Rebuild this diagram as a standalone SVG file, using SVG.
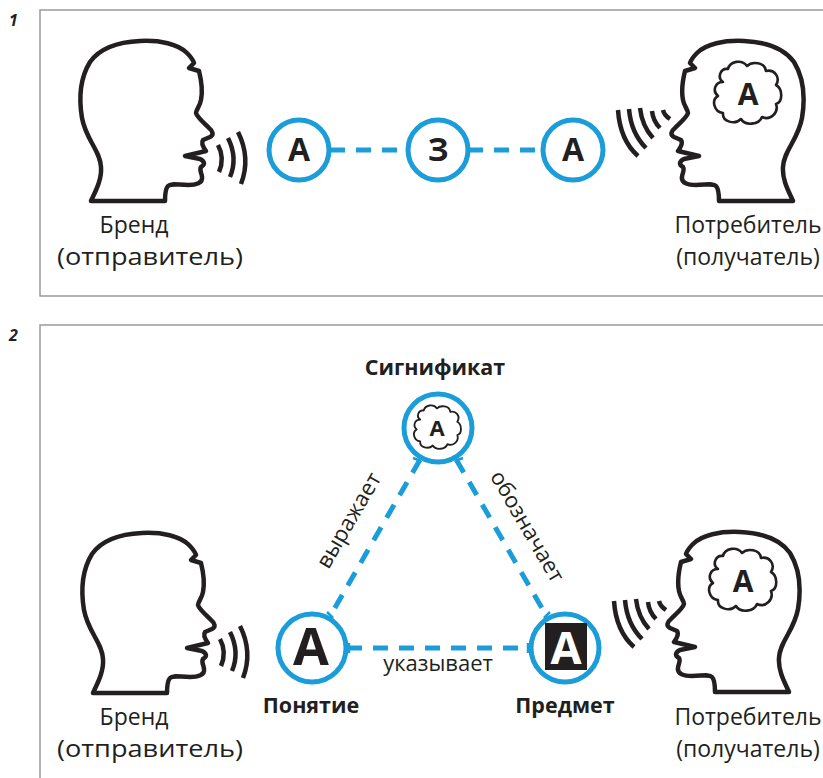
<svg xmlns="http://www.w3.org/2000/svg" xmlns:xlink="http://www.w3.org/1999/xlink" width="823" height="778" viewBox="0 0 823 778">
  <style>
    .frame { fill: none; stroke: #9a9a9a; stroke-width: 1.5; }
    .num { font-family: "Open Sans", "Noto Sans", sans-serif; font-style: italic; font-weight: 700; font-size: 16px; fill: #231f20; }
    .lbl { font-family: "Open Sans", "Noto Sans", sans-serif; font-size: 23px; fill: #231f20; text-anchor: middle; }
    .bold { font-family: "Open Sans", "Noto Sans", sans-serif; font-weight: 700; font-size: 21.5px; fill: #231f20; text-anchor: middle; }
    .edge { font-family: "Open Sans", "Noto Sans", sans-serif; font-size: 22px; fill: #231f20; text-anchor: middle; }
    .glyph { font-family: "Open Sans", "Noto Sans", sans-serif; font-weight: 700; fill: #231f20; text-anchor: middle; }
    .ring { fill: #fff; stroke: #1b9dd9; stroke-width: 5; }
    .dash { stroke: #1b9dd9; stroke-width: 5; stroke-dasharray: 15 11; fill: none; }
    .tick { stroke: #1b9dd9; stroke-width: 2.5; }
    .outline { fill: none; stroke: #231f20; stroke-width: 4.5; stroke-linejoin: round; }
    .wave { fill: none; stroke: #231f20; stroke-width: 4.5; }
    .cloud { fill: #fff; stroke: #231f20; stroke-width: 2.6; stroke-linejoin: round; }
  </style>
  <defs>
    <!-- profile of a head facing right -->
    <path id="head" class="outline" d="M 91 201 C 95 192 102 180 101 167 C 100 150 86 140 82 118 C 79 100 79 80 90 62 C 100 48 118 42 140 41 C 160 40 178 44 187 53 C 191 57 193 60 194 63 L 189 68 L 199 71 C 201 79 203 90 201 100 C 200 106 196 110 196 113 C 197 117 204 123 209 128 C 213 131 214 135 210 137 L 203 140 C 201 143 203 147 206 151 L 185 156 L 200 159 C 204 161 206 164 201 167 C 199 170 202 174 202 177 C 203 183 196 185 188 185 C 178 185 171 183 168 186 C 165 189 165 195 165 201 Z"/>
    <!-- thought cloud, centred on 0,0 -->
    <path id="cloud" class="cloud" d="M -24 -12 C -30 -16 -27 -26 -19 -25 C -17 -33 -5 -35 0 -28 C 5 -33 18 -32 19 -23 C 27 -25 34 -17 29 -9 C 36 -5 36 8 29 10 C 32 18 24 27 15 23 C 12 31 -2 32 -6 25 C -12 31 -25 28 -24 19 C -33 18 -36 6 -29 2 C -35 -3 -32 -12 -24 -12 Z"/>
    <!-- speech waves leaving the mouth -->
    <g id="waves-out">
      <path class="wave" d="M 218 145 Q 225 158 219 172"/>
      <path class="wave" d="M 228 138 Q 238 158 230 177"/>
      <path class="wave" d="M 238 132 Q 251 158 241 184"/>
    </g>
    <!-- waves arriving at the listener -->
    <g id="waves-in">
      <path class="wave" d="M 618 110 Q 620 140 638 156"/>
      <path class="wave" d="M 629 109 Q 631 133 646 148"/>
      <path class="wave" d="M 640 108 Q 642 126 653 138"/>
      <path class="wave" d="M 652 111 Q 653 121 660 128"/>
      <path class="wave" d="M 663 110 Q 664 115 670 119"/>
    </g>
  </defs>

  <!-- panel frames -->
  <g id="frames">
    <path class="frame" d="M 823 10 H 40 V 296 H 823"/>
    <path class="frame" d="M 823 325 H 40 V 778"/>
    <text class="num" x="9" y="26">1</text>
    <text class="num" x="9" y="341">2</text>
  </g>

  <!-- connectors -->
  <g id="connectors">
    <line class="dash" x1="330" y1="150" x2="410" y2="150"/>
    <line class="dash" x1="468" y1="150" x2="546" y2="150"/>
    <line class="dash" x1="347" y1="648" x2="530" y2="648"/>
    <line class="dash" x1="420" y1="459.7" x2="330" y2="616.3"/>
    <line class="dash" x1="456.2" y1="459.6" x2="546.8" y2="616.4"/>
    <g class="tick">
      <line x1="413" y1="458" x2="421" y2="461"/>
      <line x1="455" y1="461" x2="463" y2="458"/>
      <line x1="327" y1="612" x2="333" y2="618"/>
      <line x1="349" y1="643" x2="349" y2="653"/>
      <line x1="528" y1="643" x2="528" y2="653"/>
      <line x1="544" y1="618" x2="550" y2="612"/>
    </g>
    <g transform="translate(350 521) rotate(-59.8)">
      <text class="edge" x="0" y="6">выражает</text>
    </g>
    <g transform="translate(526 527) rotate(59.8)">
      <text class="edge" x="0" y="6">обозначает</text>
    </g>
    <text class="edge" x="438" y="671" font-size="23">указывает</text>
  </g>

  <!-- panel 1 -->
  <g id="sender-1">
    <use xlink:href="#head"/>
    <use xlink:href="#waves-out"/>
    <text class="lbl" x="134" y="233">Бренд</text>
    <text class="lbl" x="150" y="265" textLength="186" lengthAdjust="spacingAndGlyphs">(отправитель)</text>
  </g>
  <g id="idea-1">
    <circle class="ring" cx="299" cy="150" r="30"/>
    <text class="glyph" x="299" y="161" font-size="32">А</text>
  </g>
  <g id="sign-1">
    <circle class="ring" cx="438" cy="150" r="30"/>
    <text class="glyph" x="438" y="161" font-size="32">З</text>
  </g>
  <g id="idea-2">
    <circle class="ring" cx="573" cy="150" r="30"/>
    <text class="glyph" x="573" y="161" font-size="32">А</text>
  </g>
  <g id="receiver-1">
    <use xlink:href="#head" transform="translate(884 0) scale(-1 1)"/>
    <use xlink:href="#waves-in"/>
    <use xlink:href="#cloud" transform="translate(747 94)"/>
    <text class="glyph" x="748" y="105" font-size="30">А</text>
    <text class="lbl" x="748" y="233">Потребитель</text>
    <text class="lbl" x="748" y="265">(получатель)</text>
  </g>

  <!-- panel 2 -->
  <g id="sender-2">
    <use xlink:href="#head" transform="translate(2 492)"/>
    <use xlink:href="#waves-out" transform="translate(2 494)"/>
    <text class="lbl" x="134" y="725">Бренд</text>
    <text class="lbl" x="150" y="757" textLength="186" lengthAdjust="spacingAndGlyphs">(отправитель)</text>
  </g>
  <g id="signified">
    <text class="bold" x="435" y="375">Сигнификат</text>
    <circle class="ring" cx="438" cy="428" r="34"/>
    <use xlink:href="#cloud" transform="translate(437 428) scale(0.7)"/>
    <text class="glyph" x="437" y="436" font-size="22">А</text>
  </g>
  <g id="concept">
    <circle class="ring" cx="312" cy="648" r="34"/>
    <text class="glyph" x="311" y="665" font-size="52" font-weight="800">А</text>
    <text class="bold" x="311" y="713">Понятие</text>
  </g>
  <g id="referent">
    <circle class="ring" cx="565" cy="648" r="34"/>
    <rect x="545" y="623" width="42" height="47" fill="#231f20"/>
    <text class="glyph" x="566" y="664" font-size="45" style="fill:#fff">А</text>
    <text class="bold" x="565" y="713">Предмет</text>
  </g>
  <g id="receiver-2">
    <use xlink:href="#head" transform="translate(880 491) scale(-1 1)"/>
    <use xlink:href="#waves-in" transform="translate(-4 491)"/>
    <use xlink:href="#cloud" transform="translate(742 581)"/>
    <text class="glyph" x="743" y="592" font-size="30">А</text>
    <text class="lbl" x="748" y="725">Потребитель</text>
    <text class="lbl" x="748" y="757">(получатель)</text>
  </g>
</svg>
